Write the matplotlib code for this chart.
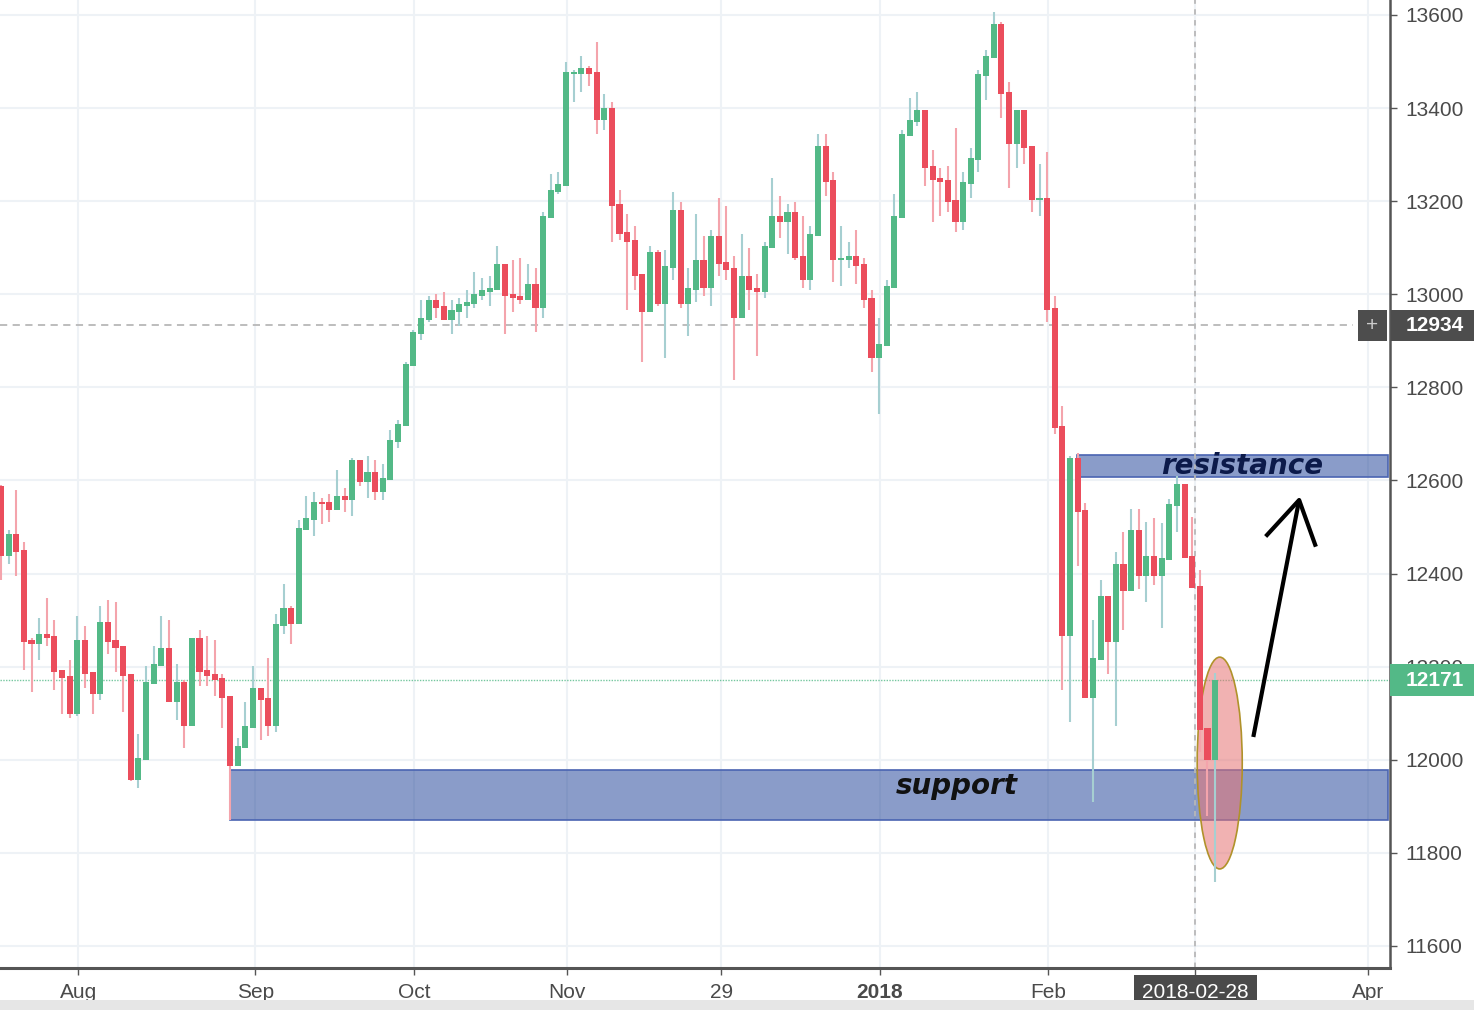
import matplotlib
matplotlib.use("Agg")
import matplotlib.pyplot as plt
import matplotlib.transforms as mtransforms
from matplotlib.patches import Rectangle, Ellipse
import numpy as np

# daily OHLC (trading-day index 0..159)
opens = [12588, 12438, 12485, 12451, 12257, 12249, 12270, 12266, 12193, 12180,
         12099, 12257, 12189, 12141, 12296, 12257, 12245, 12185, 11957, 11999,
         12163, 12202, 12240, 12124, 12167, 12073, 12262, 12193, 12185, 12176,
         12137, 11987, 12026, 12068, 12154, 12133, 12073, 12288, 12326, 12292,
         12494, 12515, 12554, 12554, 12537, 12567, 12558, 12644, 12597, 12618,
         12575, 12601, 12683, 12717, 12846, 12915, 12945, 12988, 12975, 12945,
         12962, 12975, 12979, 12996, 13005, 13009, 13065, 13001, 12996, 12988,
         13022, 12971, 13164, 13220, 13233, 13473, 13473, 13486, 13478, 13374,
         13400, 13194, 13134, 13117, 13044, 12962, 13091, 12979, 13057, 13181,
         12979, 13009, 13074, 13014, 13125, 13069, 13057, 12949, 13039, 13014,
         13005, 13100, 13168, 13155, 13177, 13082, 13031, 13125, 13319, 13246,
         13074, 13074, 13082, 13065, 12992, 12863, 12889, 13014, 13164, 13340,
         13370, 13396, 13276, 13250, 13246, 13203, 13155, 13237, 13289, 13469,
         13508, 13581, 13435, 13323, 13396, 13319, 13203, 13207, 12971, 12717,
         12266, 12648, 12537, 12133, 12215, 12352, 12253, 12421, 12363, 12494,
         12395, 12438, 12395, 12429, 12545, 12593, 12438, 12374, 12068, 12000]
highs = [12590, 12494, 12580, 12468, 12262, 12305, 12348, 12300, 12193, 12215,
         12309, 12288, 12189, 12330, 12343, 12339, 12245, 12185, 12056, 12202,
         12245, 12309, 12300, 12206, 12172, 12262, 12279, 12266, 12257, 12185,
         12137, 12047, 12124, 12202, 12154, 12219, 12313, 12378, 12330, 12515,
         12567, 12575, 12562, 12571, 12623, 12584, 12648, 12644, 12653, 12644,
         12636, 12709, 12730, 12855, 12923, 12988, 12996, 13001, 13005, 12988,
         12992, 13009, 13048, 13035, 13039, 13104, 13065, 13074, 13078, 13065,
         13057, 13177, 13258, 13263, 13499, 13482, 13512, 13490, 13542, 13430,
         13413, 13224, 13173, 13147, 13044, 13104, 13095, 13095, 13220, 13198,
         13057, 13173, 13125, 13138, 13207, 13190, 13082, 13130, 13100, 13044,
         13112, 13250, 13211, 13194, 13198, 13168, 13147, 13344, 13344, 13263,
         13147, 13112, 13138, 13078, 13009, 12949, 13031, 13216, 13353, 13422,
         13435, 13396, 13310, 13271, 13276, 13357, 13263, 13314, 13482, 13525,
         13606, 13585, 13456, 13396, 13396, 13319, 13280, 13306, 12996, 12760,
         12653, 12659, 12552, 12300, 12386, 12352, 12447, 12489, 12539, 12539,
         12511, 12520, 12509, 12560, 12610, 12593, 12522, 12408, 12068, 12187]
lows = [12386, 12421, 12395, 12193, 12146, 12215, 12245, 12150, 12099, 12090,
        12094, 12154, 12099, 12129, 12227, 12189, 12103, 11955, 11940, 11999,
        12163, 12202, 12124, 12086, 12026, 12073, 12159, 12159, 12137, 12068,
        11871, 11987, 12026, 12068, 12043, 12051, 12060, 12270, 12249, 12292,
        12494, 12481, 12507, 12511, 12537, 12532, 12524, 12588, 12562, 12558,
        12558, 12601, 12670, 12717, 12846, 12902, 12941, 12949, 12945, 12915,
        12932, 12949, 12971, 12988, 12975, 13009, 12915, 12962, 12979, 12988,
        12919, 12949, 13164, 13216, 13233, 13413, 13435, 13448, 13344, 13353,
        13112, 13117, 12966, 13009, 12855, 12962, 12975, 12863, 13031, 12971,
        12910, 12984, 12996, 12975, 13039, 13031, 12816, 12949, 12966, 12867,
        12992, 13100, 13121, 13087, 13074, 13014, 13009, 13125, 13211, 13026,
        13018, 13057, 13022, 12971, 12833, 12743, 12889, 13014, 13164, 13340,
        13362, 13233, 13155, 13168, 13177, 13134, 13138, 13207, 13263, 13417,
        13508, 13379, 13228, 13271, 13280, 13177, 13168, 12941, 12700, 12150,
        12081, 12416, 12133, 11910, 12215, 12184, 12073, 12279, 12363, 12367,
        12339, 12376, 12283, 12429, 12489, 12434, 12369, 12017, 11879, 11738]
closes = [12438, 12485, 12447, 12253, 12249, 12270, 12262, 12189, 12176, 12099,
          12257, 12185, 12141, 12296, 12253, 12240, 12180, 11957, 12004, 12167,
          12206, 12240, 12124, 12167, 12073, 12262, 12189, 12180, 12172, 12133,
          11987, 12030, 12073, 12154, 12129, 12073, 12292, 12326, 12292, 12498,
          12520, 12554, 12550, 12537, 12567, 12558, 12644, 12597, 12618, 12575,
          12605, 12687, 12721, 12850, 12919, 12949, 12988, 12971, 12945, 12966,
          12979, 12984, 13001, 13009, 13014, 13065, 12996, 12992, 12988, 13022,
          12971, 13168, 13224, 13237, 13478, 13478, 13486, 13473, 13374, 13400,
          13190, 13130, 13112, 13039, 12962, 13091, 12979, 13061, 13181, 12979,
          13014, 13074, 13014, 13125, 13065, 13052, 12949, 13039, 13009, 13005,
          13104, 13168, 13155, 13177, 13078, 13031, 13130, 13319, 13241, 13074,
          13078, 13082, 13061, 12988, 12863, 12893, 13018, 13168, 13344, 13374,
          13396, 13271, 13246, 13241, 13198, 13155, 13241, 13293, 13473, 13512,
          13581, 13430, 13323, 13396, 13314, 13203, 13207, 12966, 12713, 12266,
          12648, 12532, 12133, 12219, 12352, 12253, 12421, 12363, 12494, 12395,
          12438, 12395, 12434, 12550, 12593, 12434, 12369, 12064, 12000, 12171]

x_tick_pos = [10.1, 33.3, 54.1, 74.1, 94.3, 115.1, 137.1, 156.4, 179.0]
x_tick_labels = ["Aug", "Sep", "Oct", "Nov", "29", "2018", "Feb", "2018-02-28", "Apr"]
y_ticks = list(range(11600, 13601, 200))

crosshair_price = 12934
last_price = 12171
support_zone = (11871, 11978)
resistance_zone = (12608, 12655)

UP = "#53b987"
DOWN = "#eb4d5c"
UP_WICK = "#a6cfd1"
DOWN_WICK = "#f4a4ac"
AXIS = "#555555"
LABEL = "#4a4a4a"

plt.rcParams["font.family"] = ["Liberation Sans", "DejaVu Sans"]

fig = plt.figure(figsize=(14.74, 10.10), dpi=100)
ax = fig.add_axes([0, 42 / 1010, 1390 / 1474, 968 / 1010])

idx = np.arange(len(opens))
o = np.array(opens, dtype=float)
h = np.array(highs, dtype=float)
l = np.array(lows, dtype=float)
c = np.array(closes, dtype=float)
up = c >= o
body_bottom = np.minimum(o, c)
body_height = np.maximum(np.abs(c - o), 3)

ax.vlines(idx[up], l[up], h[up], color=UP_WICK, lw=1.5, zorder=3)
ax.vlines(idx[~up], l[~up], h[~up], color=DOWN_WICK, lw=1.5, zorder=3)
ax.bar(idx[up], body_height[up], bottom=body_bottom[up], width=0.8, color=UP, zorder=4)
ax.bar(idx[~up], body_height[~up], bottom=body_bottom[~up], width=0.8, color=DOWN, zorder=4)

x_left, x_right = -0.13, 181.9
ax.set_xlim(x_left, x_right)
ax.set_ylim(11552.7, 13632.2)

# zones
zone_fc = (0.09, 0.23, 0.58, 0.5)
zone_ec = "#4a64b2"
ax.add_patch(Rectangle((30, support_zone[0]), 181.7 - 30, support_zone[1] - support_zone[0],
                       fc=zone_fc, ec=zone_ec, lw=1.2, zorder=1.5))
ax.add_patch(Rectangle((140.9, resistance_zone[0]), 181.7 - 140.9, resistance_zone[1] - resistance_zone[0],
                       fc=zone_fc, ec=zone_ec, lw=1.2, zorder=1.5))
ax.add_patch(Ellipse((159.6, 11993), 5.9, 455, fc=(0.9, 0.45, 0.45, 0.55), ec="#b0922a", lw=1.2, zorder=2))

ax.text(125.1, 11944, "support", family="DejaVu Sans", fontsize=20, fontweight="bold",
        fontstyle="italic", color="#111111", ha="center", va="center", zorder=5)
ax.text(162.5, 12631, "resistance", family="DejaVu Sans", fontsize=20, fontweight="bold",
        fontstyle="italic", color="#0c1a4a", ha="center", va="center", zorder=5)

# hand-drawn arrow
ax.plot([164.0, 170.0], [12049, 12558], color="black", lw=3, solid_capstyle="butt", zorder=5)
ax.plot([165.8, 170.0, 172.1], [12483, 12558, 12462], color="black", lw=3, zorder=5)

# crosshair and last price line
ax.plot([x_left, 177.0], [crosshair_price, crosshair_price], color="#b8b8b8", lw=1.3,
        dashes=(4, 3), zorder=1.8)
ax.axvline(156.4, color="#b8b8b8", lw=1.3, dashes=(3, 3), zorder=1.8)
ax.axhline(last_price, color=UP, lw=1, ls=(0, (1, 1)), alpha=0.8, zorder=1.8)

# axes styling
for side in ["top", "left"]:
    ax.spines[side].set_visible(False)
ax.spines["right"].set_color(AXIS)
ax.spines["right"].set_linewidth(1.8)
ax.spines["bottom"].set_color(AXIS)
ax.spines["bottom"].set_linewidth(2.2)

ax.yaxis.tick_right()
ax.set_yticks(y_ticks)
ax.set_yticklabels([str(v) for v in y_ticks])
ax.set_xticks(x_tick_pos)
ax.set_xticklabels(x_tick_labels)
ax.tick_params(axis="y", length=5, width=1, color=AXIS, labelcolor=LABEL, labelsize=15, pad=6)
ax.tick_params(axis="x", length=5, width=1, color=AXIS, labelcolor=LABEL, labelsize=15, pad=6)
ax.grid(True, color="#eef2f6", lw=1.5, zorder=0)
ax.set_axisbelow(True)

xlabels = ax.get_xticklabels()
xlabels[5].set_fontweight("bold")
xlabels[7].set_color("white")
xlabels[7].set_bbox(dict(boxstyle="square,pad=0.38", fc="#4a4a4a", ec="none"))

# price labels on the right axis (boxes in axes-x / price-y coordinates)
blend = mtransforms.blended_transform_factory(ax.transAxes, ax.transData)
px = 1 / 1390
py = 2000 / 931
ax.add_patch(Rectangle((1391 * px, crosshair_price - 15.5 * py), 85 * px, 31 * py, transform=blend,
                       fc="#4d4d4d", ec="none", clip_on=False, zorder=6))
ax.add_patch(Rectangle((1358 * px, crosshair_price - 15.5 * py), 29 * px, 31 * py, transform=blend,
                       fc="#4d4d4d", ec="none", clip_on=False, zorder=6))
ax.add_patch(Rectangle((1390 * px, last_price - 16 * py), 86 * px, 32 * py, transform=blend,
                       fc=UP, ec="none", clip_on=False, zorder=6))
ax.text(1435 * px, crosshair_price, "12934", transform=blend, ha="center", va="center",
        fontsize=15, fontweight="bold", color="white", clip_on=False, zorder=7)
ax.text(1372.5 * px, crosshair_price, "+", transform=blend, ha="center", va="center",
        fontsize=15, color="#cccccc", clip_on=False, zorder=7)
ax.text(1435 * px, last_price, "12171", transform=blend, ha="center", va="center",
        fontsize=15, fontweight="bold", color="white", clip_on=False, zorder=7)

fig.patches.append(Rectangle((0, 0), 1, 10 / 1010, transform=fig.transFigure, fc="#e6e6e6", ec="none"))

fig.savefig("out.png", dpi=100)
